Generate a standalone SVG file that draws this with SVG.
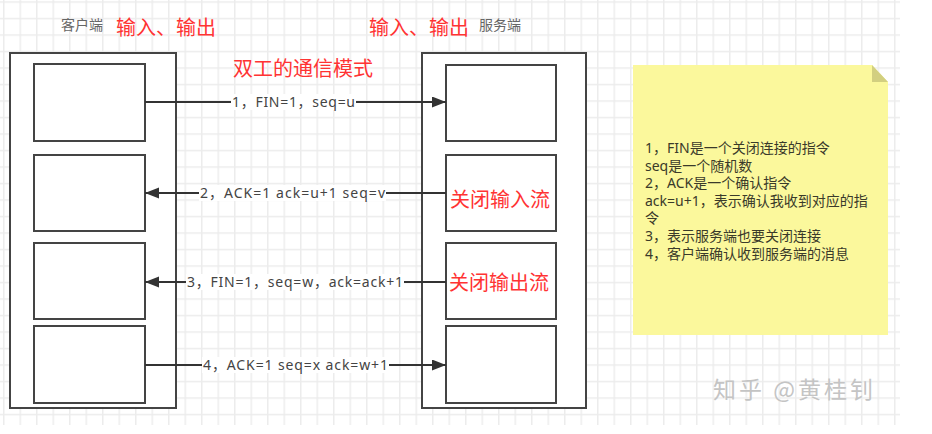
<svg xmlns="http://www.w3.org/2000/svg" width="932" height="434" viewBox="0 0 932 434">
<style>
  .box{fill:#fff;stroke:#444;stroke-width:2}
  .edge{stroke:#333;stroke-width:2;fill:none}
  .lbl{font-family:"Noto Sans","Noto Sans CJK SC",sans-serif;font-size:14px;fill:#444}
  .lblbg{fill:#fff}
  .red{font-family:"Noto Sans CJK SC",sans-serif;font-size:20px;fill:#ff3333}
  .gray{font-family:"Noto Sans CJK SC",sans-serif;font-size:14px;fill:#666}
  .note{font-family:"Noto Sans","Noto Sans CJK SC",sans-serif;font-size:14px;fill:#3a3a2a}
</style>
<defs>
  <pattern id="grid" x="3" y="1.3" width="16.5" height="16.5" patternUnits="userSpaceOnUse">
    <path d="M0 0.75H16.5M0.75 0V16.5" stroke="#ececec" stroke-width="1.5" fill="none"/>
  </pattern>
  <marker id="arr" markerUnits="userSpaceOnUse" markerWidth="16" markerHeight="12" refX="14" refY="5.5" orient="auto">
    <path d="M0,0 L14,5.5 L0,11 z" fill="#333"/>
  </marker>
</defs>
<rect width="932" height="434" fill="#fff"/>
<rect x="0" y="0" width="900" height="425" fill="url(#grid)"/>

<g id="client">
  <rect class="box" x="10" y="53" width="166" height="355"/>
  <text class="gray" x="61" y="30">客户端</text>
  <text class="red" x="116" y="35">输入、输出</text>
</g>
<g id="client-box1"><rect class="box" x="34" y="64" width="111" height="77"/></g>
<g id="client-box2"><rect class="box" x="34" y="155" width="111" height="76"/></g>
<g id="client-box3"><rect class="box" x="34" y="243" width="111" height="76"/></g>
<g id="client-box4"><rect class="box" x="34" y="326" width="111" height="77"/></g>

<g id="server">
  <rect class="box" x="422" y="53" width="164" height="355"/>
  <text class="red" x="369" y="35">输入、输出</text>
  <text class="gray" x="479" y="30">服务端</text>
</g>
<g id="server-box1"><rect class="box" x="446" y="65" width="110" height="76"/></g>
<g id="server-box2"><rect class="box" x="446" y="155" width="110" height="76"/>
  <text class="red" x="450" y="207">关闭输入流</text></g>
<g id="server-box3"><rect class="box" x="446" y="243" width="110" height="76"/>
  <text class="red" x="449" y="290">关闭输出流</text></g>
<g id="server-box4"><rect class="box" x="446" y="326" width="110" height="77"/></g>

<g id="title"><text class="red" x="233" y="76">双工的通信模式</text></g>

<g id="connectors">
  <line class="edge" x1="145" y1="102" x2="446" y2="102" marker-end="url(#arr)"/>
  <rect class="lblbg" x="231" y="94" width="125" height="16"/>
  <text class="lbl" x="232" y="107" textLength="123" lengthAdjust="spacing">1，FIN=1，seq=u</text>

  <line class="edge" x1="446" y1="193" x2="145" y2="193" marker-end="url(#arr)"/>
  <rect class="lblbg" x="199" y="185" width="187" height="16"/>
  <text class="lbl" x="200" y="198" textLength="185" lengthAdjust="spacing">2，ACK=1 ack=u+1 seq=v</text>

  <line class="edge" x1="446" y1="282" x2="145" y2="282" marker-end="url(#arr)"/>
  <rect class="lblbg" x="186" y="274" width="218" height="16"/>
  <text class="lbl" x="187" y="287" textLength="216" lengthAdjust="spacing">3，FIN=1，seq=w，ack=ack+1</text>

  <line class="edge" x1="145" y1="365" x2="446" y2="365" marker-end="url(#arr)"/>
  <rect class="lblbg" x="202" y="357" width="187" height="16"/>
  <text class="lbl" x="203" y="370" textLength="185" lengthAdjust="spacing">4，ACK=1 seq=x ack=w+1</text>
</g>

<g id="note">
  <polygon points="633,65 872,65 888,82 888,335 633,335" fill="#fbf89c"/>
  <polygon points="872,65 888,82 872,82" fill="#d2cf80"/>
  <text class="note" x="645" y="153">1，FIN是一个关闭连接的指令</text>
  <text class="note" x="645" y="170.6">seq是一个随机数</text>
  <text class="note" x="645" y="188.2">2，ACK是一个确认指令</text>
  <text class="note" x="645" y="205.8">ack=u+1，表示确认我收到对应的指</text>
  <text class="note" x="645" y="223.4">令</text>
  <text class="note" x="645" y="241">3，表示服务端也要关闭连接</text>
  <text class="note" x="645" y="258.6">4，客户端确认收到服务端的消息</text>
</g>

<g id="watermark"><text x="713" y="398" font-family="Noto Sans CJK SC, sans-serif" font-size="23" letter-spacing="3" fill="#c4c4c4">知乎 @黄桂钊</text></g>
</svg>
